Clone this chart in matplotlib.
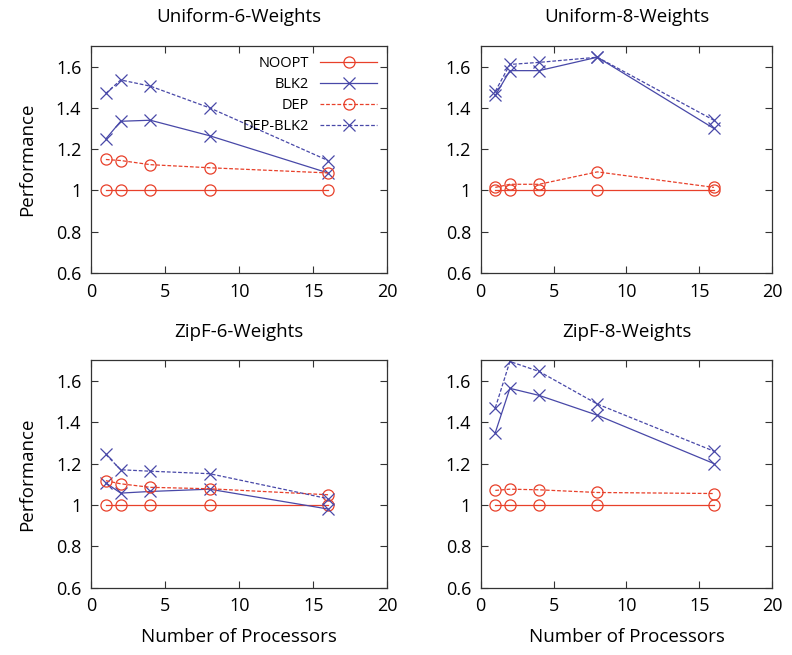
import numpy as np
import matplotlib
matplotlib.use("Agg")
import matplotlib.pyplot as plt

plt.rcParams['font.family'] = ['Open Sans', 'DejaVu Sans']

# ── Dados ────────────────────────────────────────────────────────
procs = [1, 2, 4, 8, 16]
series = ["NOOPT", "BLK2", "DEP", "DEP-BLK2"]

u6_noopt = [1.0, 1.0, 1.0, 1.0, 1.0]
u6_blk2 = [1.25, 1.335, 1.34, 1.265, 1.085]
u6_dep = [1.15, 1.145, 1.125, 1.11, 1.085]
u6_depblk2 = [1.47, 1.535, 1.505, 1.40, 1.145]

u8_noopt = [1.0, 1.0, 1.0, 1.0, 1.0]
u8_blk2 = [1.46, 1.58, 1.58, 1.645, 1.30]
u8_dep = [1.015, 1.03, 1.03, 1.09, 1.015]
u8_depblk2 = [1.48, 1.61, 1.62, 1.645, 1.34]

z6_noopt = [1.0, 1.0, 1.0, 1.0, 1.0]
z6_blk2 = [1.106, 1.057, 1.065, 1.076, 0.98]
z6_dep = [1.117, 1.102, 1.085, 1.078, 1.049]
z6_depblk2 = [1.244, 1.17, 1.163, 1.151, 1.03]

z8_noopt = [1.0, 1.0, 1.0, 1.0, 1.0]
z8_blk2 = [1.35, 1.564, 1.53, 1.434, 1.20]
z8_dep = [1.07, 1.076, 1.073, 1.06, 1.055]
z8_depblk2 = [1.47, 1.694, 1.646, 1.488, 1.26]

titles = ["Uniform-6-Weights", "Uniform-8-Weights", "ZipF-6-Weights", "ZipF-8-Weights"]
panels = [
    [u6_noopt, u6_blk2, u6_dep, u6_depblk2],
    [u8_noopt, u8_blk2, u8_dep, u8_depblk2],
    [z6_noopt, z6_blk2, z6_dep, z6_depblk2],
    [z8_noopt, z8_blk2, z8_dep, z8_depblk2],
]

# ── Estilo ───────────────────────────────────────────────────────
RED = "#e8402a"
BLUE = "#4848a8"
estilos = [
    dict(color=RED, linestyle="-", marker="o"),
    dict(color=BLUE, linestyle="-", marker="x"),
    dict(color=RED, linestyle=(0, (3, 1.5)), marker="o"),
    dict(color=BLUE, linestyle=(0, (3, 1.5)), marker="x"),
]

fig = plt.figure(figsize=(7.92, 6.55), dpi=100)
posicoes = [
    [0.115, 0.583, 0.374, 0.347],
    [0.607, 0.583, 0.368, 0.347],
    [0.115, 0.103, 0.374, 0.347],
    [0.607, 0.103, 0.368, 0.347],
]

for i, (pos, titulo, dados) in enumerate(zip(posicoes, titles, panels)):
    ax = fig.add_axes(pos)
    for nome, vals, st in zip(series, dados, estilos):
        ax.plot(procs, vals, label=nome, linewidth=0.9, markersize=8,
                markerfacecolor="none", markeredgewidth=0.9, **st)
    ax.set_xlim(0, 20)
    ax.set_ylim(0.6, 1.7)
    ax.set_xticks([0, 5, 10, 15, 20])
    ax.set_yticks([0.6, 0.8, 1.0, 1.2, 1.4, 1.6])
    ax.set_yticklabels(["0.6", "0.8", "1", "1.2", "1.4", "1.6"])
    ax.tick_params(direction="in", top=True, right=True, length=5,
                   labelsize=13, pad=7, color="#333333")
    for s in ax.spines.values():
        s.set_color("#333333")
        s.set_linewidth(0.9)
    ax.set_title(titulo, fontsize=13.5, pad=17)
    if i % 2 == 0:
        ax.set_ylabel("Performance", fontsize=13.5, labelpad=14)
    if i >= 2:
        ax.set_xlabel("Number of Processors", fontsize=13.5, labelpad=9)
    if i == 0:
        ax.legend(loc="upper right", frameon=False, markerfirst=False,
                  fontsize=10.5, handlelength=3.9, labelspacing=0.42,
                  borderaxespad=0.3, handletextpad=0.8)

plt.savefig("out.png", dpi=100)
